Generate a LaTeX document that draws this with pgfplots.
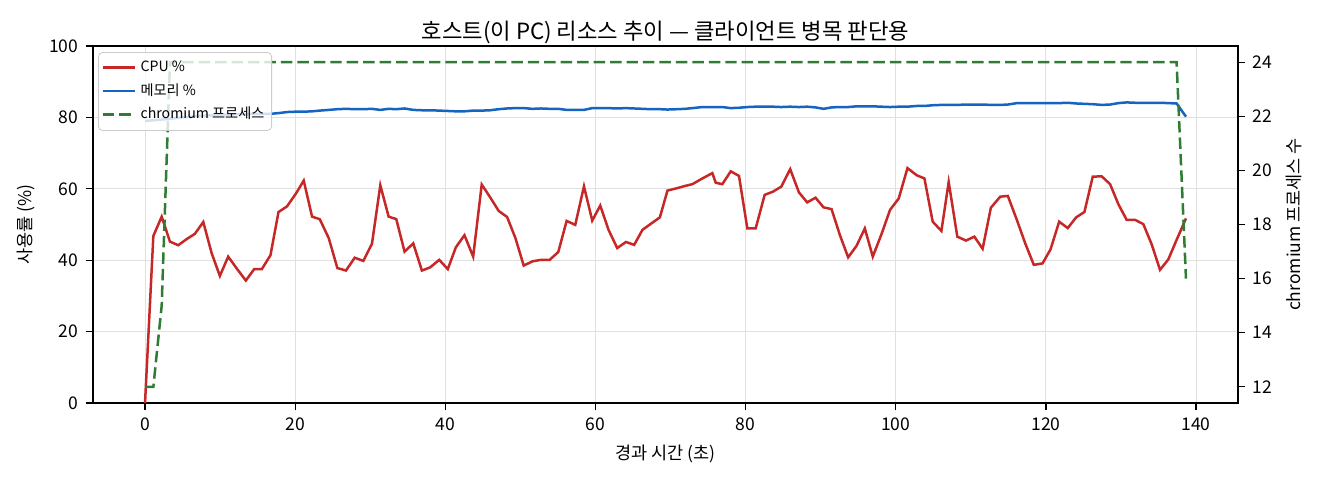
\documentclass[border=0pt]{standalone}
\usepackage{fontspec}
\setmainfont{Noto Sans CJK KR}
\usepackage{pgfplots}
\pgfplotsset{compat=1.18}
\definecolor{cpuc}{HTML}{C62828}
\definecolor{memc}{HTML}{1565C0}
\definecolor{chrc}{HTML}{2E7D32}
\begin{document}
\begin{tikzpicture}
\useasboundingbox (-44.64pt,-36.96pt) rectangle (588.96pt,193.44pt);
\pgfplotsset{
  base/.style={scale only axis, width=549.6pt, height=171.36pt, at={(0pt,0pt)}, anchor=south west,
    xmin=-6.93, xmax=145.59,
    tick align=outside, major tick length=3.5pt, tick style={black, line width=0.6pt},
    /pgf/number format/assume math mode=true,
    ticklabel style={font=\fontsize{8.4}{10}\selectfont},
    label style={font=\fontsize{8.4}{10}\selectfont},
    axis line style={line width=0.6pt},
    legend image code/.code={\path (0pt,0pt) -- (15.5pt,0pt); \draw[##1] (0pt,0pt) -- (13.4pt,0pt);}},
}
\begin{axis}[base, ymin=0, ymax=100, ytick={0,20,...,100}, xtick={0,20,...,140},
  xtick pos=left, ytick pos=left,
  grid=major, grid style={black!12, line width=0.5pt},
  xlabel={경과 시간 (초)}, ylabel={사용률 (\%)},
  title={호스트(이 PC) 리소스 추이 — 클라이언트 병목 판단용},
  title style={font=\fontsize{10.7}{12}\selectfont, yshift=-8.3pt}]
\addplot[cpuc, line width=1.2pt] coordinates {
(0,0) (1.11,46.8) (2.22,52.2) (3.32,45.2) (4.43,44.2) (5.54,45.9) (6.65,47.4) (7.76,50.7)
(8.87,42.0) (9.97,35.6) (11.08,41.0) (12.28,37.5) (13.43,34.3) (14.54,37.5) (15.56,37.5)
(16.71,41.4) (17.78,53.5) (18.92,55.1) (20.08,58.6) (21.14,62.3) (22.25,52.2) (23.27,51.5)
(24.47,46.2) (25.62,37.8) (26.77,37.1) (27.93,40.7) (29.08,39.8) (30.23,44.6) (31.34,61.0)
(32.45,52.2) (33.47,51.5) (34.57,42.4) (35.73,44.7) (36.88,37.1) (37.99,38.0) (39.19,40.1)
(40.33,37.5) (41.40,43.6) (42.55,47.0) (43.71,41.0) (44.85,61.2) (45.98,57.6) (47.11,53.8)
(48.23,52.1) (49.34,46.2) (50.44,38.5) (51.64,39.7) (52.75,40.1) (53.90,40.1) (55.05,42.3)
(56.16,51.0) (57.31,49.9) (58.47,60.7) (59.57,51.1) (60.64,55.3) (61.74,48.5) (62.90,43.4)
(64.06,45.1) (65.16,44.3) (66.26,48.5) (67.38,50.2) (68.58,52.0) (69.59,59.5) (70.92,60.2)
(71.94,60.8) (72.91,61.3) (74.24,62.9) (75.57,64.4) (76.02,61.7) (76.90,61.3) (78.02,64.9)
(79.12,63.6) (80.23,48.9) (81.34,48.9) (82.54,58.3) (83.64,59.2) (84.75,60.6) (85.94,65.5)
(87.10,59.0) (88.20,56.2) (89.32,57.5) (90.38,54.8) (91.45,54.3) (92.55,47.1) (93.66,40.8)
(94.77,44.0) (95.88,48.9) (96.94,41.0) (98.10,47.3) (99.24,54.1) (100.40,57.3) (101.56,65.8)
(102.79,63.8) (103.82,62.9) (104.92,50.8) (106.08,48.2) (107.05,61.9) (108.20,46.6) (109.35,45.5)
(110.47,46.6) (111.57,43.2) (112.67,54.7) (113.92,57.8) (114.93,58.0) (116.13,51.3) (117.25,44.7)
(118.39,38.7) (119.55,39.1) (120.61,43.0) (121.77,50.8) (122.91,49.0) (124.03,52.0) (125.13,53.5)
(126.24,63.4) (127.43,63.5) (128.55,61.3) (129.65,55.7) (130.76,51.3) (131.88,51.3) (132.98,50.1)
(134.08,44.5) (135.20,37.3) (136.30,40.2) (137.41,45.7) (138.66,51.7)
};
\addplot[memc, line width=1.2pt] coordinates {
(0,79.0) (1.11,79.2) (2.22,79.4) (3.32,79.6) (4.43,79.9) (5.54,80.1) (6.65,80.3) (7.76,80.5)
(8.87,80.6) (9.97,80.7) (11.08,80.8) (12.28,80.9) (13.43,80.9) (14.54,81.0) (15.56,81.0)
(16.71,81.0) (17.78,81.2) (18.92,81.5) (20.08,81.6) (21.14,81.6) (22.25,81.7) (23.27,81.9)
(24.47,82.1) (25.62,82.3) (26.77,82.4) (27.93,82.3) (29.08,82.3) (30.23,82.4) (31.34,82.1)
(32.45,82.4) (33.47,82.3) (34.57,82.5) (35.73,82.1) (36.88,82.0) (37.99,82.0) (39.19,81.9)
(40.33,81.8) (41.40,81.7) (42.55,81.7) (43.71,81.9) (44.85,81.9) (45.98,82.0) (47.11,82.3)
(48.23,82.5) (49.34,82.6) (50.44,82.6) (51.64,82.4) (52.75,82.5) (53.90,82.4) (55.05,82.4)
(56.16,82.1) (57.31,82.1) (58.47,82.1) (59.57,82.6) (60.64,82.6) (61.74,82.6) (62.90,82.5)
(64.06,82.6) (65.16,82.5) (66.26,82.4) (67.38,82.3) (68.58,82.3) (69.59,82.2) (70.92,82.3)
(71.94,82.4) (72.91,82.6) (74.24,82.9) (75.57,82.9) (76.02,82.9) (76.90,82.9) (78.02,82.6)
(79.12,82.7) (80.23,82.9) (81.34,83.0) (82.54,83.0) (83.64,83.0) (84.75,82.9) (85.94,83.0)
(87.10,82.9) (88.20,83.0) (89.32,82.8) (90.38,82.4) (91.45,82.8) (92.55,82.9) (93.66,82.9)
(94.77,83.1) (95.88,83.1) (96.94,83.1) (98.10,83.0) (99.24,82.9) (100.40,83.0) (101.56,83.0)
(102.79,83.2) (103.82,83.2) (104.92,83.4) (106.08,83.5) (107.05,83.5) (108.20,83.5) (109.35,83.6)
(110.47,83.6) (111.57,83.6) (112.67,83.5) (113.92,83.5) (114.93,83.6) (116.13,84.0) (117.25,84.0)
(118.39,84.0) (119.55,84.0) (120.61,84.0) (121.77,84.0) (122.91,84.1) (124.03,83.9) (125.13,83.8)
(126.24,83.7) (127.43,83.5) (128.55,83.6) (129.65,84.0) (130.76,84.2) (131.88,84.1) (132.98,84.1)
(134.08,84.1) (135.20,84.1) (136.30,84.0) (137.41,83.9) (138.66,80.2)
};
\end{axis}
\begin{axis}[base, ymin=11.4, ymax=24.6, ytick={12,14,...,24},
  hide x axis, axis y line*=right, ytick pos=right,
  ylabel={chromium 프로세스 수},
  legend style={at={(0.0044,0.983)}, anchor=north west, font=\fontsize{6.8}{7.5}\selectfont,
    draw=black!20, rounded corners=2pt, fill=white, fill opacity=0.8, text opacity=1,
    inner xsep=1.5pt, inner ysep=2pt, row sep=0.3pt, cells={anchor=west}}]
\addlegendimage{cpuc, line width=1.2pt}
\addlegendentry{CPU \%}
\addlegendimage{memc, line width=1.2pt}
\addlegendentry{메모리 \%}
\addplot[chrc, line width=1.2pt, dash pattern=on 5.5pt off 2.4pt] coordinates {
(0,12) (1.11,12) (2.22,15) (3.32,24) (137.41,24) (138.66,16)
};
\addlegendentry{chromium 프로세스}
\end{axis}
\end{tikzpicture}
\end{document}
